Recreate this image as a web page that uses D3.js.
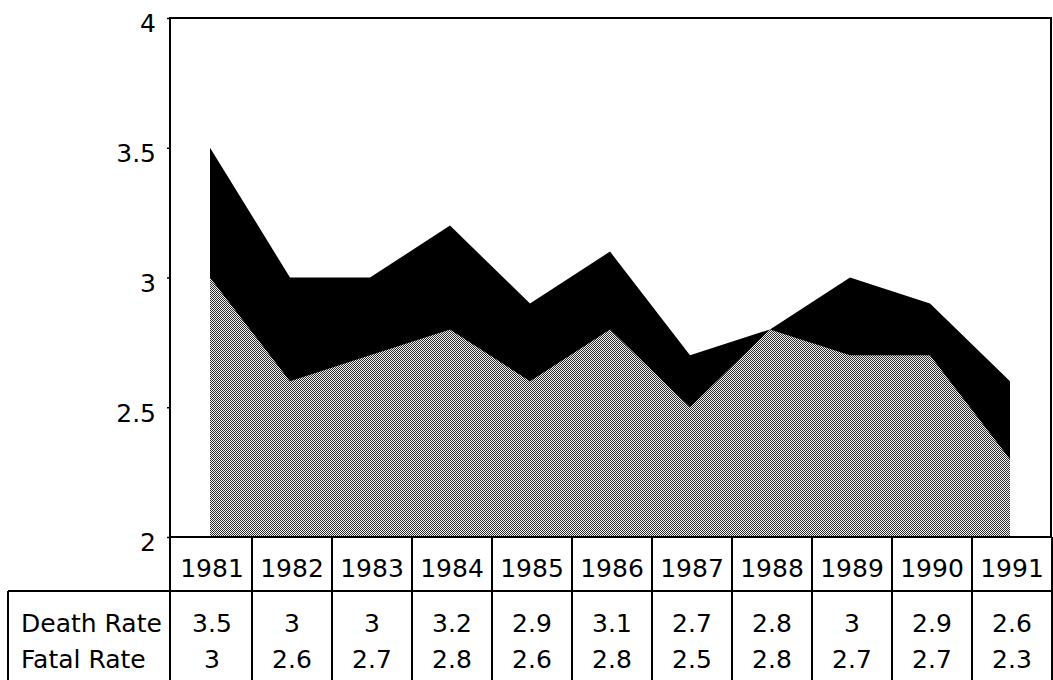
<!DOCTYPE html>
<html>
<head>
<meta charset="utf-8">
<script src="https://cdn.jsdelivr.net/npm/d3@7"></script>
<style>
  body { margin: 0; background: #fff; }
  text { font-family: "DejaVu Sans", sans-serif; fill: #000; }
</style>
</head>
<body>
<div id="chart"></div>
<script>
	// values
	var years = ["1981","1982","1983","1984","1985","1986","1987","1988","1989","1990","1991"]
	var deathRate = [3.5, 3, 3, 3.2, 2.9, 3.1, 2.7, 2.8, 3, 2.9, 2.6]
	var fatalRate = [3, 2.6, 2.7, 2.8, 2.6, 2.8, 2.5, 2.8, 2.7, 2.7, 2.3]
	var seriesNames = ["Death Rate", "Fatal Rate"]
	var yTicks = [2, 2.5, 3, 3.5, 4]

	var W = 1053, H = 680
	var mLeft = 170, mRight = 1051, mTop = 18, mBottom = 537
	var yearRowH = 54
	var tableLeft = 8

	var svg = d3.select("#chart").append("svg").attr("width", W).attr("height", H)

	// dithered grey fill like the original print
	var pat = svg.append("defs").append("pattern")
		.attr("id", "dither").attr("width", 2).attr("height", 2)
		.attr("patternUnits", "userSpaceOnUse")
	pat.append("rect").attr("width", 2).attr("height", 2).attr("fill", "#f4f4f4")
	pat.append("rect").attr("x", 0).attr("y", 0).attr("width", 1).attr("height", 1).attr("fill", "#2e2e2e")
	pat.append("rect").attr("x", 1).attr("y", 1).attr("width", 1).attr("height", 1).attr("fill", "#2e2e2e")

	var xBand = d3.scaleBand().domain(years).range([mLeft + 2, mRight + 1]).padding(0)
	var x = function(yr){ return xBand(yr) + xBand.bandwidth() / 2 - 2 }
	var y = d3.scaleLinear().domain([2, 4]).range([mBottom, mTop])

	var rows = years.map(function(yr, i){
		return {year: yr, death: deathRate[i], fatal: fatalRate[i]}
	})

	var deathArea = d3.area()
		.x(function(d){ return x(d.year) })
		.y0(y(2))
		.y1(function(d){ return y(d.death) })
	var fatalArea = d3.area()
		.x(function(d){ return x(d.year) })
		.y0(y(2))
		.y1(function(d){ return y(d.fatal) })

	svg.append("path").datum(rows).attr("d", deathArea).attr("fill", "#000")
	svg.append("path").datum(rows).attr("d", fatalArea).attr("fill", "url(#dither)")

	// frame
	svg.append("rect")
		.attr("x", mLeft).attr("y", mTop)
		.attr("width", mRight - mLeft).attr("height", mBottom - mTop)
		.attr("fill", "none").attr("stroke", "#000").attr("stroke-width", 2)

	// y axis
	var yAxis = d3.axisLeft(y).tickValues(yTicks).tickSize(3).tickPadding(11)
		.tickFormat(function(d){ return d3.format("")(d) })
	var ga = svg.append("g").attr("transform", "translate(" + mLeft + ",0)").call(yAxis)
	ga.select(".domain").remove()
	ga.selectAll("line").attr("stroke", "#000").attr("stroke-width", 1.5)
	ga.selectAll("text")
		.style("font-family", "DejaVu Sans, sans-serif")
		.style("font-size", "25px")
		.attr("dy", "0.55em")

	// data table under the chart
	var tableTop = mBottom + yearRowH
	var lineStyle = function(sel){ return sel.attr("stroke", "#000").attr("stroke-width", 2) }

	lineStyle(svg.append("line").attr("x1", mLeft).attr("x2", mRight).attr("y1", tableTop).attr("y2", tableTop))
	lineStyle(svg.append("line").attr("x1", tableLeft).attr("x2", mLeft).attr("y1", tableTop).attr("y2", tableTop))
	lineStyle(svg.append("line").attr("x1", tableLeft).attr("x2", tableLeft).attr("y1", tableTop).attr("y2", H))
	lineStyle(svg.append("line").attr("x1", mLeft).attr("x2", mLeft).attr("y1", mBottom).attr("y2", H))

	years.forEach(function(yr){
		var x1 = xBand(yr) + xBand.bandwidth()
		lineStyle(svg.append("line").attr("x1", x1).attr("x2", x1).attr("y1", mBottom).attr("y2", H))
	})

	svg.selectAll(".yr").data(years).enter().append("text")
		.attr("x", function(d){ return xBand(d) + xBand.bandwidth() / 2 })
		.attr("y", mBottom + 40)
		.attr("text-anchor", "middle")
		.style("font-size", "25px")
		.text(function(d){ return d })

	var rowY = [tableTop + 41, tableTop + 77]
	var seriesVals = [deathRate, fatalRate]

	seriesNames.forEach(function(name, r){
		svg.append("text")
			.attr("x", tableLeft + 13)
			.attr("y", rowY[r])
			.style("font-size", "25px")
			.text(name)
		svg.selectAll(".v" + r).data(seriesVals[r]).enter().append("text")
			.attr("x", function(d, i){ return xBand(years[i]) + xBand.bandwidth() / 2 })
			.attr("y", rowY[r])
			.attr("text-anchor", "middle")
			.style("font-size", "25px")
			.text(function(d){ return d })
	})
</script>
</body>
</html>
